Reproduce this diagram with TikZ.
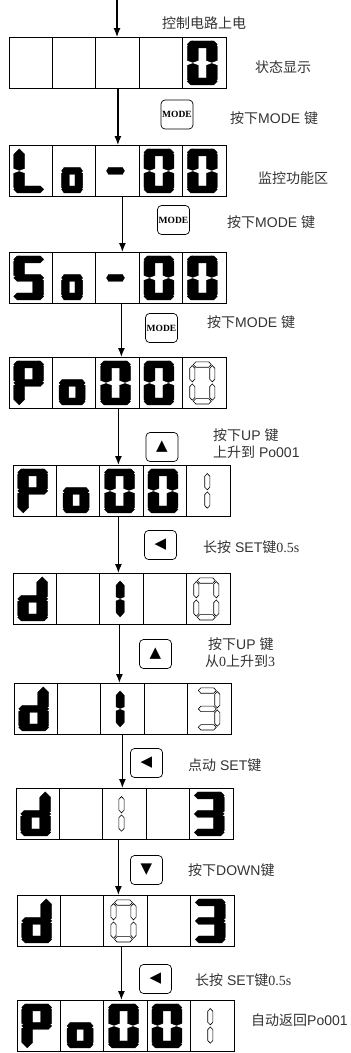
\documentclass[tikz,border=0pt]{standalone}
\usepackage{fontspec}
\setmainfont{Liberation Sans}
\newfontfamily\cjk{Noto Sans CJK SC}
\newfontfamily\serifnum{Liberation Serif}
\newfontfamily\symfont{DejaVu Sans}
\usepackage{tikz}
\usetikzlibrary{arrows.meta}
\tikzset{
    panel/.style={rectangle, draw, line width=0.8pt, minimum width=217pt, minimum height=51pt, anchor=north west, inner sep=0pt},
    key/.style={rectangle, draw, line width=0.7pt, rounded corners=4pt, minimum width=32pt, minimum height=29pt, inner sep=0pt},
    modekey/.style={key, font=\serifnum\bfseries\fontsize{9.5}{10}\selectfont},
    arrowkey/.style={key, font=\symfont\fontsize{15}{15}\selectfont},
    flow/.style={-{Latex[length=9pt, width=7pt]}, line width=1.2pt},
    lbl/.style={anchor=west, align=left, inner sep=0pt, text=black!80, font=\fontsize{14}{17}\selectfont},
    lit/.style={fill=black, draw=black, line width=0.3pt,
        /utils/exec={\def\segw{5.5}\def\segv{9.5}\def\segy{22}\def\segm{0.5}\def\segt{2}%
                     \def\segh{3.5}\def\segr{18.5}\def\segx{15}}},
    dim/.style={fill=white, draw=black, line width=0.6pt, yscale=1.05,
        /utils/exec={\def\segw{2.6}\def\segv{10}\def\segy{16.5}\def\segm{1}\def\segt{2.6}%
                     \def\segh{2.6}\def\segr{17.5}\def\segx{9}}},
}
% seven segments, a = top, then clockwise, g = middle
\newcommand{\sega}{\filldraw (-\segx,-\segr) -- (-\segx+\segh,-\segr-\segh) -- (\segx-\segh,-\segr-\segh) -- (\segx,-\segr) -- (\segx-\segh,-\segr+\segh) -- (-\segx+\segh,-\segr+\segh) -- cycle;}
\newcommand{\segb}{\filldraw (\segv,-\segy) -- (\segv+\segw,-\segy+\segw) -- (\segv+\segw,-\segm-\segt) -- (\segv,-\segm) -- (\segv-\segw,-\segm-\segt) -- (\segv-\segw,-\segy+\segw) -- cycle;}
\newcommand{\segc}{\filldraw (\segv,\segy) -- (\segv+\segw,\segy-\segw) -- (\segv+\segw,\segm+\segt) -- (\segv,\segm) -- (\segv-\segw,\segm+\segt) -- (\segv-\segw,\segy-\segw) -- cycle;}
\newcommand{\segd}{\filldraw (-\segx,\segr) -- (-\segx+\segh,\segr-\segh) -- (\segx-\segh,\segr-\segh) -- (\segx,\segr) -- (\segx-\segh,\segr+\segh) -- (-\segx+\segh,\segr+\segh) -- cycle;}
\newcommand{\sege}{\filldraw (-\segv,\segy) -- (-\segv-\segw,\segy-\segw) -- (-\segv-\segw,\segm+\segt) -- (-\segv,\segm) -- (-\segv+\segw,\segm+\segt) -- (-\segv+\segw,\segy-\segw) -- cycle;}
\newcommand{\segf}{\filldraw (-\segv,-\segy) -- (-\segv-\segw,-\segy+\segw) -- (-\segv-\segw,-\segm-\segt) -- (-\segv,-\segm) -- (-\segv+\segw,-\segm-\segt) -- (-\segv+\segw,-\segy+\segw) -- cycle;}
\newcommand{\segg}{\filldraw (-\segx,0) -- (-\segx+\segh,-\segh) -- (\segx-\segh,-\segh) -- (\segx,0) -- (\segx-\segh,\segh) -- (-\segx+\segh,\segh) -- cycle;}
% \dig[x offset]{panel}{cell}{segments}{style}
\newcommand{\dig}[5][0]{%
    \begin{scope}[shift={(#2.west)}, shift={({#3*43.4-23.7+(#1)},0)}, #5]
        \foreach \s in {#4} {\csname seg\s\endcsname}
    \end{scope}}

\begin{document}
\begin{tikzpicture}[x=1pt, y=-1pt]
    \useasboundingbox (0,0) rectangle (351,1053);

    % displays
    \node[panel] (p1) at (9,37) {};
    \node[panel] (p2) at (9,145) {};
    \node[panel] (p3) at (9,252) {};
    \node[panel] (p4) at (9,357) {};
    \node[panel] (p5) at (13,465) {};
    \node[panel] (p6) at (13,573) {};
    \node[panel] (p7) at (14,683) {};
    \node[panel] (p8) at (16,788) {};
    \node[panel] (p9) at (17,895) {};
    \node[panel] (p10) at (17,1000) {};
    \foreach \p in {p1,p2,p3,p4,p5,p6,p7,p8,p9,p10}
        \foreach \i in {1,...,4}
            \draw[line width=0.8pt] ([xshift=\i*43.4pt]\p.north west) -- ([xshift=\i*43.4pt]\p.south west);

    % digits
    \dig{p1}{5}{a,b,c,d,e,f}{lit}
    \dig{p2}{1}{f,e,d}{lit}
    \dig{p2}{2}{c,d,e,g}{lit,xscale=0.7}
    \dig{p2}{3}{g}{lit,xscale=0.6}
    \dig{p2}{4}{a,b,c,d,e,f}{lit}
    \dig{p2}{5}{a,b,c,d,e,f}{lit}
    \dig{p3}{1}{a,f,g,c,d}{lit}
    \dig{p3}{2}{c,d,e,g}{lit,xscale=0.7}
    \dig{p3}{3}{g}{lit,xscale=0.6}
    \dig{p3}{4}{a,b,c,d,e,f}{lit}
    \dig{p3}{5}{a,b,c,d,e,f}{lit}
    \dig{p4}{1}{a,b,e,f,g}{lit}
    \dig{p4}{2}{c,d,e,g}{lit,xscale=0.87}
    \dig{p4}{3}{a,b,c,d,e,f}{lit}
    \dig{p4}{4}{a,b,c,d,e,f}{lit}
    \dig{p4}{5}{a,b,c,d,e,f}{dim}
    \dig{p5}{1}{a,b,e,f,g}{lit}
    \dig{p5}{2}{c,d,e,g}{lit,xscale=0.87}
    \dig{p5}{3}{a,b,c,d,e,f}{lit}
    \dig{p5}{4}{a,b,c,d,e,f}{lit}
    \dig[-9]{p5}{5}{b,c}{dim}
    \dig{p6}{1}{b,c,d,e,g}{lit}
    \dig[-6.5]{p6}{3}{b,c}{lit,xscale=0.75,yscale=0.82}
    \dig{p6}{5}{a,b,c,d,e,f}{dim}
    \dig{p7}{1}{b,c,d,e,g}{lit}
    \dig[-7.5]{p7}{3}{b,c}{lit,xscale=0.75,yscale=0.82}
    \dig{p7}{5}{a,b,g,c,d}{dim}
    \dig{p8}{1}{b,c,d,e,g}{lit}
    \dig[-11]{p8}{3}{b,c}{dim}
    \dig{p8}{5}{a,b,g,c,d}{lit}
    \dig{p9}{1}{b,c,d,e,g}{lit}
    \dig{p9}{3}{a,b,c,d,e,f}{dim}
    \dig{p9}{5}{a,b,g,c,d}{lit}
    \dig{p10}{1}{a,b,e,f,g}{lit}
    \dig{p10}{2}{c,d,e,g}{lit,xscale=0.87}
    \dig{p10}{3}{a,b,c,d,e,f}{lit}
    \dig{p10}{4}{a,b,c,d,e,f}{lit}
    \dig[-10]{p10}{5}{b,c}{dim}

    % keys
    \node[modekey] (k1) at (177,114.5) {MODE};
    \node[modekey] (k2) at (173.5,220) {MODE};
    \node[modekey] (k3) at (161.5,328) {MODE};
    \node[arrowkey] (k4) at (162,447) {▲};
    \node[arrowkey] (k5) at (160.5,545) {◀};
    \node[arrowkey] (k6) at (155.5,654) {▲};
    \node[arrowkey] (k7) at (146.5,763) {◀};
    \node[arrowkey] (k8) at (146.5,870) {▼};
    \node[arrowkey] (k9) at (155.5,979) {◀};

    % labels
    \node[lbl] (l0) at (162,23) {\cjk 控制电路上电};
    \node[lbl] (l1) at (255,67) {\cjk 状态显示};
    \node[lbl] (l2) at (230,118) {{\cjk 按下}MODE {\cjk 键}};
    \node[lbl] (l3) at (258,178) {\cjk 监控功能区};
    \node[lbl] (l4) at (227,222) {{\cjk 按下}MODE {\cjk 键}};
    \node[lbl] (l5) at (207,322) {{\cjk 按下}MODE {\cjk 键}};
    \node[lbl] (l6) at (213,443.5) {{\cjk 按下}UP {\cjk 键}\\{\cjk 上升到} Po001};
    \node[lbl] (l7) at (203,547) {{\cjk 长按} SET{\cjk 键}{\serifnum 0.5s}};
    \node[lbl] (l8) at (205,653) {\hspace{3pt}{\cjk 按下}UP {\cjk 键}\\{\cjk 从}{\serifnum 0}{\cjk 上升到}{\serifnum 3}};
    \node[lbl] (l9) at (188,765) {{\cjk 点动} SET{\cjk 键}};
    \node[lbl] (l10) at (188,870) {{\cjk 按下}DOWN{\cjk 键}};
    \node[lbl] (l11) at (195,980) {{\cjk 长按} SET{\cjk 键}{\serifnum 0.5s}};
    \node[lbl] (l12) at (251,1020) {{\cjk 自动返回}Po001};

    % arrows
    \coordinate (start) at (117,0);
    \draw[flow] (start) -- (start |- p1.north);
    \draw[flow] (p1.south) -- (p2.north);
    \draw[flow] ([xshift=4.5pt]p2.south) -- ([xshift=4.5pt]p2.south |- p3.north);
    \draw[flow] ([xshift=3.5pt]p3.south) -- ([xshift=3.5pt]p3.south |- p4.north);
    \draw[flow] ([xshift=0.5pt]p4.south) -- ([xshift=0.5pt]p4.south |- p5.north);
    \draw[flow] ([xshift=-3.5pt]p5.south) -- ([xshift=-3.5pt]p5.south |- p6.north);
    \draw[flow] ([xshift=-2.5pt]p6.south) -- ([xshift=-2.5pt]p6.south |- p7.north);
    \draw[flow] ([xshift=-0.5pt]p7.south) -- ([xshift=-0.5pt]p7.south |- p8.north);
    \draw[flow] ([xshift=-6.5pt]p8.south) -- ([xshift=-6.5pt]p8.south |- p9.north);
    \draw[flow] ([xshift=-4.5pt]p9.south) -- ([xshift=-4.5pt]p9.south |- p10.north);
\end{tikzpicture}
\end{document}
